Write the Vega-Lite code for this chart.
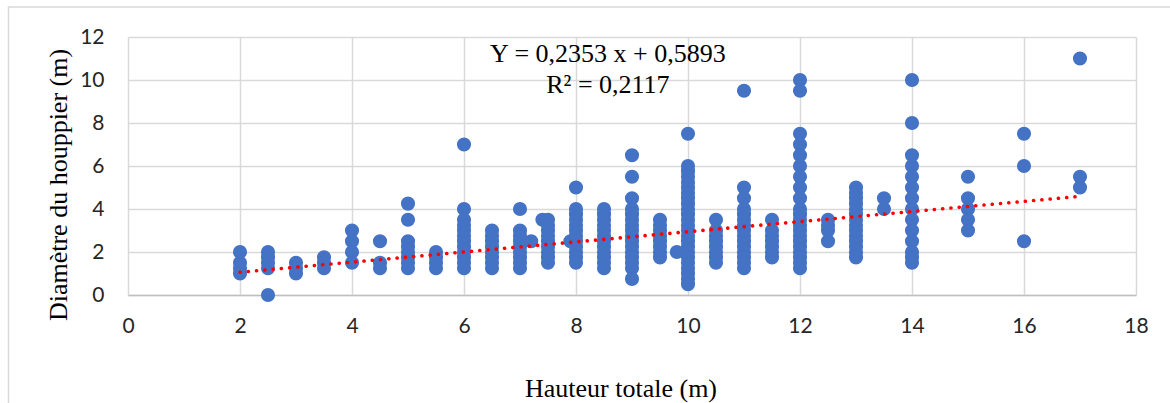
{
  "$schema": "https://vega.github.io/schema/vega-lite/v6.json",
  "width": 1008,
  "height": 258,
  "autosize": {"type": "none"},
  "padding": {"left": 128, "top": 37, "right": 34, "bottom": 108},
  "background": "#FFFFFF",
  "config": {
    "view": {"stroke": null},
    "axis": {
      "grid": true,
      "gridColor": "#D9D9D9",
      "gridWidth": 1.5,
      "ticks": false,
      "labelFont": "Lato",
      "labelFontSize": 21,
      "labelColor": "#262626",
      "labelFlush": false,
      "labelOverlap": false,
      "format": "d",
      "titleFont": "Liberation Serif",
      "titleFontSize": 26,
      "titleFontWeight": "normal",
      "titleColor": "#000000",
      "titleBaseline": "alphabetic"
    }
  },
  "datasets": {
    "arbres": [
      {"hauteur": 2, "diametre": 2}, {"hauteur": 2, "diametre": 1.5}, {"hauteur": 2, "diametre": 1.25}, {"hauteur": 2, "diametre": 1},
      {"hauteur": 2.5, "diametre": 2}, {"hauteur": 2.5, "diametre": 1.75}, {"hauteur": 2.5, "diametre": 1.5}, {"hauteur": 2.5, "diametre": 1.25}, {"hauteur": 2.5, "diametre": 0},
      {"hauteur": 3, "diametre": 1.5}, {"hauteur": 3, "diametre": 1.25}, {"hauteur": 3, "diametre": 1},
      {"hauteur": 3.5, "diametre": 1.75}, {"hauteur": 3.5, "diametre": 1.5}, {"hauteur": 3.5, "diametre": 1.25},
      {"hauteur": 4, "diametre": 3}, {"hauteur": 4, "diametre": 2.5}, {"hauteur": 4, "diametre": 2}, {"hauteur": 4, "diametre": 1.5},
      {"hauteur": 4.5, "diametre": 2.5}, {"hauteur": 4.5, "diametre": 1.5}, {"hauteur": 4.5, "diametre": 1.25},
      {"hauteur": 5, "diametre": 4.25}, {"hauteur": 5, "diametre": 3.5}, {"hauteur": 5, "diametre": 2.5}, {"hauteur": 5, "diametre": 2.25}, {"hauteur": 5, "diametre": 2}, {"hauteur": 5, "diametre": 1.75}, {"hauteur": 5, "diametre": 1.5}, {"hauteur": 5, "diametre": 1.25},
      {"hauteur": 5.5, "diametre": 2}, {"hauteur": 5.5, "diametre": 1.75}, {"hauteur": 5.5, "diametre": 1.5}, {"hauteur": 5.5, "diametre": 1.25},
      {"hauteur": 6, "diametre": 7}, {"hauteur": 6, "diametre": 4}, {"hauteur": 6, "diametre": 3.5}, {"hauteur": 6, "diametre": 3.25}, {"hauteur": 6, "diametre": 3}, {"hauteur": 6, "diametre": 2.75}, {"hauteur": 6, "diametre": 2.5}, {"hauteur": 6, "diametre": 2.25}, {"hauteur": 6, "diametre": 2}, {"hauteur": 6, "diametre": 1.75}, {"hauteur": 6, "diametre": 1.5}, {"hauteur": 6, "diametre": 1.25},
      {"hauteur": 6.5, "diametre": 3}, {"hauteur": 6.5, "diametre": 2.75}, {"hauteur": 6.5, "diametre": 2.5}, {"hauteur": 6.5, "diametre": 2.25}, {"hauteur": 6.5, "diametre": 2}, {"hauteur": 6.5, "diametre": 1.75}, {"hauteur": 6.5, "diametre": 1.5}, {"hauteur": 6.5, "diametre": 1.25},
      {"hauteur": 7, "diametre": 4}, {"hauteur": 7, "diametre": 3}, {"hauteur": 7, "diametre": 2.75}, {"hauteur": 7, "diametre": 2.5}, {"hauteur": 7, "diametre": 2.25}, {"hauteur": 7, "diametre": 2}, {"hauteur": 7, "diametre": 1.75}, {"hauteur": 7, "diametre": 1.5}, {"hauteur": 7, "diametre": 1.25},
      {"hauteur": 7.2, "diametre": 2.5},
      {"hauteur": 7.4, "diametre": 3.5},
      {"hauteur": 7.5, "diametre": 3.5}, {"hauteur": 7.5, "diametre": 3.25}, {"hauteur": 7.5, "diametre": 3}, {"hauteur": 7.5, "diametre": 2.75}, {"hauteur": 7.5, "diametre": 2.5}, {"hauteur": 7.5, "diametre": 2.25}, {"hauteur": 7.5, "diametre": 2}, {"hauteur": 7.5, "diametre": 1.75}, {"hauteur": 7.5, "diametre": 1.5},
      {"hauteur": 7.9, "diametre": 2.5},
      {"hauteur": 8, "diametre": 5}, {"hauteur": 8, "diametre": 4}, {"hauteur": 8, "diametre": 3.75}, {"hauteur": 8, "diametre": 3.5}, {"hauteur": 8, "diametre": 3.25}, {"hauteur": 8, "diametre": 3}, {"hauteur": 8, "diametre": 2.75}, {"hauteur": 8, "diametre": 2.5}, {"hauteur": 8, "diametre": 2.25}, {"hauteur": 8, "diametre": 2}, {"hauteur": 8, "diametre": 1.75}, {"hauteur": 8, "diametre": 1.5},
      {"hauteur": 8.5, "diametre": 4}, {"hauteur": 8.5, "diametre": 3.75}, {"hauteur": 8.5, "diametre": 3.5}, {"hauteur": 8.5, "diametre": 3.25}, {"hauteur": 8.5, "diametre": 3}, {"hauteur": 8.5, "diametre": 2.75}, {"hauteur": 8.5, "diametre": 2.5}, {"hauteur": 8.5, "diametre": 2.25}, {"hauteur": 8.5, "diametre": 2}, {"hauteur": 8.5, "diametre": 1.75}, {"hauteur": 8.5, "diametre": 1.5}, {"hauteur": 8.5, "diametre": 1.25},
      {"hauteur": 9, "diametre": 6.5}, {"hauteur": 9, "diametre": 5.5}, {"hauteur": 9, "diametre": 4.5}, {"hauteur": 9, "diametre": 4}, {"hauteur": 9, "diametre": 3.75}, {"hauteur": 9, "diametre": 3.5}, {"hauteur": 9, "diametre": 3.25}, {"hauteur": 9, "diametre": 3}, {"hauteur": 9, "diametre": 2.75}, {"hauteur": 9, "diametre": 2.5}, {"hauteur": 9, "diametre": 2.25}, {"hauteur": 9, "diametre": 2}, {"hauteur": 9, "diametre": 1.75}, {"hauteur": 9, "diametre": 1.5}, {"hauteur": 9, "diametre": 1.25}, {"hauteur": 9, "diametre": 0.75},
      {"hauteur": 9.5, "diametre": 3.5}, {"hauteur": 9.5, "diametre": 3.25}, {"hauteur": 9.5, "diametre": 3}, {"hauteur": 9.5, "diametre": 2.75}, {"hauteur": 9.5, "diametre": 2.5}, {"hauteur": 9.5, "diametre": 2.25}, {"hauteur": 9.5, "diametre": 2}, {"hauteur": 9.5, "diametre": 1.75},
      {"hauteur": 9.8, "diametre": 2},
      {"hauteur": 10, "diametre": 7.5}, {"hauteur": 10, "diametre": 6}, {"hauteur": 10, "diametre": 5.75}, {"hauteur": 10, "diametre": 5.5}, {"hauteur": 10, "diametre": 5.25}, {"hauteur": 10, "diametre": 5}, {"hauteur": 10, "diametre": 4.75}, {"hauteur": 10, "diametre": 4.5}, {"hauteur": 10, "diametre": 4.25}, {"hauteur": 10, "diametre": 4}, {"hauteur": 10, "diametre": 3.75}, {"hauteur": 10, "diametre": 3.5}, {"hauteur": 10, "diametre": 3.25}, {"hauteur": 10, "diametre": 3}, {"hauteur": 10, "diametre": 2.75}, {"hauteur": 10, "diametre": 2.5}, {"hauteur": 10, "diametre": 2.25}, {"hauteur": 10, "diametre": 2}, {"hauteur": 10, "diametre": 1.75}, {"hauteur": 10, "diametre": 1.5}, {"hauteur": 10, "diametre": 1.25}, {"hauteur": 10, "diametre": 1}, {"hauteur": 10, "diametre": 0.75}, {"hauteur": 10, "diametre": 0.5},
      {"hauteur": 10.5, "diametre": 3.5}, {"hauteur": 10.5, "diametre": 3}, {"hauteur": 10.5, "diametre": 2.75}, {"hauteur": 10.5, "diametre": 2.5}, {"hauteur": 10.5, "diametre": 2.25}, {"hauteur": 10.5, "diametre": 2}, {"hauteur": 10.5, "diametre": 1.75}, {"hauteur": 10.5, "diametre": 1.5},
      {"hauteur": 11, "diametre": 9.5}, {"hauteur": 11, "diametre": 5}, {"hauteur": 11, "diametre": 4.5}, {"hauteur": 11, "diametre": 4}, {"hauteur": 11, "diametre": 3.75}, {"hauteur": 11, "diametre": 3.5}, {"hauteur": 11, "diametre": 3.25}, {"hauteur": 11, "diametre": 3}, {"hauteur": 11, "diametre": 2.75}, {"hauteur": 11, "diametre": 2.5}, {"hauteur": 11, "diametre": 2.25}, {"hauteur": 11, "diametre": 2}, {"hauteur": 11, "diametre": 1.75}, {"hauteur": 11, "diametre": 1.5}, {"hauteur": 11, "diametre": 1.25},
      {"hauteur": 11.5, "diametre": 3.5}, {"hauteur": 11.5, "diametre": 3}, {"hauteur": 11.5, "diametre": 2.75}, {"hauteur": 11.5, "diametre": 2.5}, {"hauteur": 11.5, "diametre": 2.25}, {"hauteur": 11.5, "diametre": 2}, {"hauteur": 11.5, "diametre": 1.75},
      {"hauteur": 12, "diametre": 10}, {"hauteur": 12, "diametre": 9.5}, {"hauteur": 12, "diametre": 7.5}, {"hauteur": 12, "diametre": 7}, {"hauteur": 12, "diametre": 6.5}, {"hauteur": 12, "diametre": 6}, {"hauteur": 12, "diametre": 5.5}, {"hauteur": 12, "diametre": 5}, {"hauteur": 12, "diametre": 4.5}, {"hauteur": 12, "diametre": 4}, {"hauteur": 12, "diametre": 3.75}, {"hauteur": 12, "diametre": 3.5}, {"hauteur": 12, "diametre": 3.25}, {"hauteur": 12, "diametre": 3}, {"hauteur": 12, "diametre": 2.75}, {"hauteur": 12, "diametre": 2.5}, {"hauteur": 12, "diametre": 2.25}, {"hauteur": 12, "diametre": 2}, {"hauteur": 12, "diametre": 1.75}, {"hauteur": 12, "diametre": 1.5}, {"hauteur": 12, "diametre": 1.25},
      {"hauteur": 12.5, "diametre": 3.5}, {"hauteur": 12.5, "diametre": 3.25}, {"hauteur": 12.5, "diametre": 3}, {"hauteur": 12.5, "diametre": 2.5},
      {"hauteur": 13, "diametre": 5}, {"hauteur": 13, "diametre": 4.75}, {"hauteur": 13, "diametre": 4.5}, {"hauteur": 13, "diametre": 4.25}, {"hauteur": 13, "diametre": 4}, {"hauteur": 13, "diametre": 3.75}, {"hauteur": 13, "diametre": 3.5}, {"hauteur": 13, "diametre": 3.25}, {"hauteur": 13, "diametre": 3}, {"hauteur": 13, "diametre": 2.75}, {"hauteur": 13, "diametre": 2.5}, {"hauteur": 13, "diametre": 2.25}, {"hauteur": 13, "diametre": 2}, {"hauteur": 13, "diametre": 1.75},
      {"hauteur": 13.5, "diametre": 4.5}, {"hauteur": 13.5, "diametre": 4},
      {"hauteur": 14, "diametre": 10}, {"hauteur": 14, "diametre": 8}, {"hauteur": 14, "diametre": 6.5}, {"hauteur": 14, "diametre": 6}, {"hauteur": 14, "diametre": 5.5}, {"hauteur": 14, "diametre": 5}, {"hauteur": 14, "diametre": 4.5}, {"hauteur": 14, "diametre": 4}, {"hauteur": 14, "diametre": 3.5}, {"hauteur": 14, "diametre": 3}, {"hauteur": 14, "diametre": 2.5}, {"hauteur": 14, "diametre": 2}, {"hauteur": 14, "diametre": 1.75}, {"hauteur": 14, "diametre": 1.5},
      {"hauteur": 15, "diametre": 5.5}, {"hauteur": 15, "diametre": 4.5}, {"hauteur": 15, "diametre": 4}, {"hauteur": 15, "diametre": 3.5}, {"hauteur": 15, "diametre": 3},
      {"hauteur": 16, "diametre": 7.5}, {"hauteur": 16, "diametre": 6}, {"hauteur": 16, "diametre": 2.5},
      {"hauteur": 17, "diametre": 11}, {"hauteur": 17, "diametre": 5.5}, {"hauteur": 17, "diametre": 5}
    ],
    "tendance": [
      {"hauteur": 2, "diametre": 1.0599},
      {"hauteur": 17, "diametre": 4.5894}
    ]
  },
  "layer": [
    {
      "description": "Chart-area frame",
      "data": {"values": [{}]},
      "mark": {"type": "rect", "fill": null, "stroke": "#D9D9D9", "strokeWidth": 1.5, "clip": false},
      "encoding": {
        "x": {"datum": -2.134, "type": "quantitative", "scale": {"domain": [0, 18], "nice": false, "zero": false}},
        "x2": {"datum": 20},
        "y": {"datum": 13.4, "type": "quantitative", "scale": {"domain": [0, 12], "nice": false, "zero": false}},
        "y2": {"datum": -6}
      }
    },
    {
      "data": {"name": "arbres"},
      "mark": {"type": "circle", "size": 200, "color": "#4472C4", "opacity": 1},
      "encoding": {
        "x": {
          "field": "hauteur",
          "type": "quantitative",
          "scale": {"domain": [0, 18], "nice": false, "zero": false},
          "axis": {
            "values": [0, 2, 4, 6, 8, 10, 12, 14, 16, 18],
            "domain": true,
            "domainColor": "#BFBFBF",
            "domainWidth": 1.5,
            "labelPadding": 20,
            "title": "Hauteur totale (m)",
            "titleX": 492.5,
            "titleY": 101
          }
        },
        "y": {
          "field": "diametre",
          "type": "quantitative",
          "scale": {"domain": [0, 12], "nice": false, "zero": false},
          "axis": {
            "values": [0, 2, 4, 6, 8, 10, 12],
            "domain": false,
            "labelPadding": 24,
            "title": "Diamètre du houppier (m)",
            "titleX": -61.5,
            "titleY": 147.5
          }
        }
      }
    },
    {
      "data": {"name": "tendance"},
      "mark": {"type": "line", "color": "#FF0000", "strokeWidth": 3.6, "strokeDash": [0.1, 8.2], "strokeCap": "round"},
      "encoding": {
        "x": {"field": "hauteur", "type": "quantitative", "scale": {"domain": [0, 18], "nice": false, "zero": false}},
        "y": {"field": "diametre", "type": "quantitative", "scale": {"domain": [0, 12], "nice": false, "zero": false}}
      }
    },
    {
      "description": "Regression equation label",
      "data": {"values": [{}]},
      "mark": {"type": "text", "font": "Liberation Serif", "fontSize": 26, "color": "#000000", "align": "center", "baseline": "alphabetic", "lineHeight": 31},
      "encoding": {
        "x": {"datum": 8.57, "type": "quantitative", "scale": {"domain": [0, 18], "nice": false, "zero": false}},
        "y": {"datum": 10.84, "type": "quantitative", "scale": {"domain": [0, 12], "nice": false, "zero": false}},
        "text": {"value": ["Y = 0,2353 x + 0,5893", "R² = 0,2117"]}
      }
    }
  ]
}
